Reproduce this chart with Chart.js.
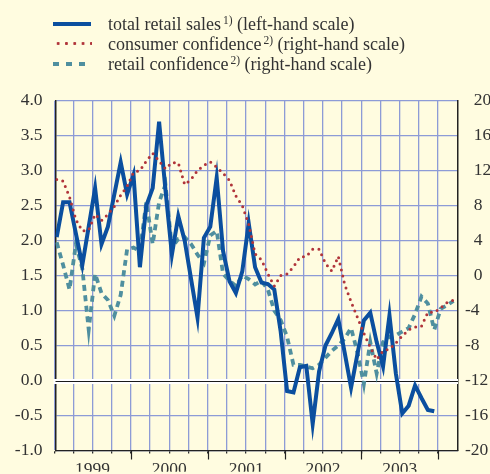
<!DOCTYPE html>
<html>
<head>
<meta charset="utf-8">
<script src="https://cdn.jsdelivr.net/npm/chart.js@4"></script>
<style>
  html, body { margin: 0; padding: 0; background: #fffce0; }
  #wrap { position: relative; width: 490px; height: 474px; overflow: hidden; background: #fffce0; }
  #chart { position: absolute; left: 0; top: 0; }
  .row { position: absolute; left: 53px; height: 20px; white-space: nowrap;
         font-family: "Liberation Serif", "DejaVu Serif", serif; font-size: 18px; color: #333; }
  .key { position: absolute; left: 0; width: 38px; }
  .txt { position: absolute; left: 55px; top: 0; line-height: 20px; }
  .txt sup { font-size: 11.5px; vertical-align: 6px; line-height: 0; margin-left: 2px; }
  .solid { top: 8px; height: 4px; background: #0b4f9f; }
  .dots { top: 7.5px; height: 3px; left: 1px;
          background: radial-gradient(circle, #b0343a 1.3px, transparent 1.6px) 0 0 / 8.3px 3px repeat-x; }
  .dash { top: 7.5px; height: 4px;
          background: linear-gradient(90deg, #4f8f9f 0 6px, transparent 6px 13px) 0 0 / 13px 4px repeat-x; }
</style>
</head>
<body>
<div id="wrap">
  <canvas id="chart" width="490" height="474"></canvas>
  <div class="row" style="top:14px"><div class="key solid"></div><div class="txt">total retail sales<sup>1)</sup> (left-hand scale)</div></div>
  <div class="row" style="top:34px"><div class="key dots"></div><div class="txt">consumer confidence<sup>2)</sup> (right-hand scale)</div></div>
  <div class="row" style="top:54px"><div class="key dash"></div><div class="txt">retail confidence<sup>2)</sup> (right-hand scale)</div></div>
</div>
<script>
// 月次データ（1999年1月 = 0）
const yearLabels = ["1999", "2000", "2001", "2002", "2003"];

// total retail sales（左目盛り, 1999/01 - 2003/12）
const retailSales = [
  2.05, 2.55, 2.55, 2.1, 1.65, 2.2, 2.75, 1.95, 2.2, 2.66, 3.12, 2.66,
  2.94, 1.62, 2.5, 2.75, 3.7, 2.72, 1.8, 2.35, 2.0, 1.45, 0.9, 2.04,
  2.2, 2.9, 1.85, 1.42, 1.25, 1.56, 2.25, 1.62, 1.4, 1.38, 1.3, 0.7,
  -0.15, -0.17, 0.19, 0.21, -0.62, 0.13, 0.5, 0.68, 0.88, 0.4, -0.1, 0.38,
  0.86, 0.97, 0.55, 0.2, 0.93, 0.1, -0.47, -0.36, -0.07, -0.25, -0.42, -0.44
];

// consumer confidence（右目盛り, 1999/01 - 2004/03）
const consumerConf = [
  11.0, 10.8, 9.0, 6.4, 5.1, 5.2, 7.0, 6.3, 7.0, 7.9, 9.2, 10.2,
  11.8, 12.0, 13.1, 14.0, 13.1, 12.2, 12.9, 12.9, 10.4, 11.0, 12.0, 12.6,
  13.0, 12.4, 11.7, 10.9, 9.1, 8.0, 5.9, 2.5, 1.8, 0.2, -1.2, 0.0,
  0.2, 1.0, 2.1, 2.2, 3.0, 3.0, 1.4, 0.5, 2.2, -1.0, -3.0, -4.8,
  -6.6, -8.2, -9.6, -8.6, -8.4, -7.7, -6.9, -6.2, -5.9, -5.8, -4.2, -4.2,
  -3.7, -3.1, -2.8
];

// retail confidence（右目盛り, 1999/01 - 2004/03）
const retailConf = [
  3.8, 1.2, -1.6, 3.6, 0.8, -6.2, 0.2, -2.0, -2.8, -4.6, -2.2, 3.0,
  3.2, 2.8, 8.4, 3.6, 8.4, 10.4, 3.2, 4.2, 4.4, 3.6, 2.4, 1.4,
  4.6, 5.1, 0.2, -0.6, -1.2, 0.0, -0.4, -1.0, -0.6, -1.6, -4.0, -5.1,
  -7.0, -10.2, -10.2, -10.4, -10.6, -10.2, -9.4, -8.6, -8.0, -7.2, -6.0, -8.8,
  -12.4, -7.6, -11.2, -7.6, -7.0, -6.8, -6.4, -6.0, -4.4, -2.4, -3.2, -6.2,
  -3.8, -3.4, -2.9
];

const xMin = -0.19;
const xMax = 62.71;

const gridColor = "#8d9bd6";
const textColor = "#333";
const serif = "'Liberation Serif', 'DejaVu Serif', serif";
const tickFont = { family: serif, size: 17.5 };

// 四半期の区切り（目盛り）と年の区切り
const quarterTicks = [];
for (let q = 0; q <= 20; q++) quarterTicks.push(-0.4 + 3 * q);
const yearStarts = quarterTicks.filter((v, i) => i % 4 === 0);

function toPoints(values) {
  return values.map((v, i) => ({ x: i, y: v }));
}

// ゼロ線（白い縁どり付き）
const zeroLine = {
  id: "zeroLine",
  beforeDatasetsDraw(chart) {
    const { ctx, chartArea: a, scales: { y } } = chart;
    const py = Math.round(y.getPixelForValue(0)) + 0.5;
    ctx.save();
    ctx.strokeStyle = "#ffffff";
    ctx.lineWidth = 5;
    ctx.beginPath();
    ctx.moveTo(a.left - 2, py);
    ctx.lineTo(a.right, py);
    ctx.stroke();
    ctx.strokeStyle = "#1a1a1a";
    ctx.lineWidth = 1.2;
    ctx.beginPath();
    ctx.moveTo(a.left, py);
    ctx.lineTo(a.right, py);
    ctx.stroke();
    ctx.restore();
  }
};

// 年の区切りは長めの目盛り
const yearTickMarks = {
  id: "yearTickMarks",
  afterDraw(chart) {
    const { ctx, chartArea: a, scales: { x } } = chart;
    ctx.save();
    ctx.strokeStyle = "#222";
    ctx.lineWidth = 1.2;
    yearStarts.forEach(m => {
      if (m < xMin) return;
      const px = Math.round(x.getPixelForValue(m)) + 0.5;
      ctx.beginPath();
      ctx.moveTo(px, a.bottom);
      ctx.lineTo(px, a.bottom + 9);
      ctx.stroke();
    });
    ctx.restore();
  }
};

new Chart(document.getElementById("chart"), {
  type: "line",
  data: {
    datasets: [
      {
        label: "consumer confidence",
        data: toPoints(consumerConf),
        yAxisID: "y2",
        borderColor: "#b0343a",
        borderWidth: 3,
        borderDash: [0, 6.2],
        borderCapStyle: "round",
        order: 0
      },
      {
        label: "total retail sales",
        data: toPoints(retailSales),
        yAxisID: "y",
        borderColor: "#0b4f9f",
        borderWidth: 4,
        borderJoinStyle: "miter",
        order: 1
      },
      {
        label: "retail confidence",
        data: toPoints(retailConf),
        yAxisID: "y2",
        borderColor: "#4f8f9f",
        borderWidth: 3.8,
        borderDash: [6, 4.5],
        order: 2
      }
    ]
  },
  options: {
    responsive: false,
    animation: false,
    devicePixelRatio: 1,
    layout: { padding: { top: 100.7, left: 0, right: 0, bottom: 0 } },
    elements: { point: { radius: 0 }, line: { tension: 0 } },
    plugins: { legend: { display: false }, tooltip: { enabled: false } },
    scales: {
      x: {
        type: "linear",
        min: xMin,
        max: xMax,
        afterBuildTicks: s => { s.ticks = quarterTicks.map(v => ({ value: v })); },
        afterFit: s => { s.height = 21.3; },
        grid: { color: gridColor, lineWidth: 1.3, drawTicks: true, tickLength: 3, tickColor: "#222", tickWidth: 1.2 },
        border: { color: "#222", width: 1.2 },
        ticks: {
          autoSkip: false,
          maxRotation: 0,
          padding: 5.5,
          color: textColor,
          font: tickFont,
          callback: (v, i) => (i % 4 === 2 ? yearLabels[(i - 2) / 4] : "")
        }
      },
      y: {
        position: "left",
        min: -1,
        max: 4,
        afterFit: s => { s.width = 55.5; },
        grid: { color: gridColor, lineWidth: 1.2, drawTicks: false },
        border: { color: "#222", width: 1.5 },
        ticks: {
          stepSize: 0.5,
          padding: 13,
          color: textColor,
          font: tickFont,
          callback: v => v.toFixed(1)
        }
      },
      y2: {
        position: "right",
        min: -20,
        max: 20,
        afterFit: s => { s.width = 32; },
        grid: { drawOnChartArea: false, drawTicks: false },
        border: { color: "#222", width: 1.5 },
        ticks: {
          stepSize: 4,
          padding: 7,
          color: textColor,
          font: tickFont,
          callback: v => (v < 0 ? "-" + Math.abs(v) : "\u2002" + v)
        }
      }
    }
  },
  plugins: [zeroLine, yearTickMarks]
});
</script>
</body>
</html>
